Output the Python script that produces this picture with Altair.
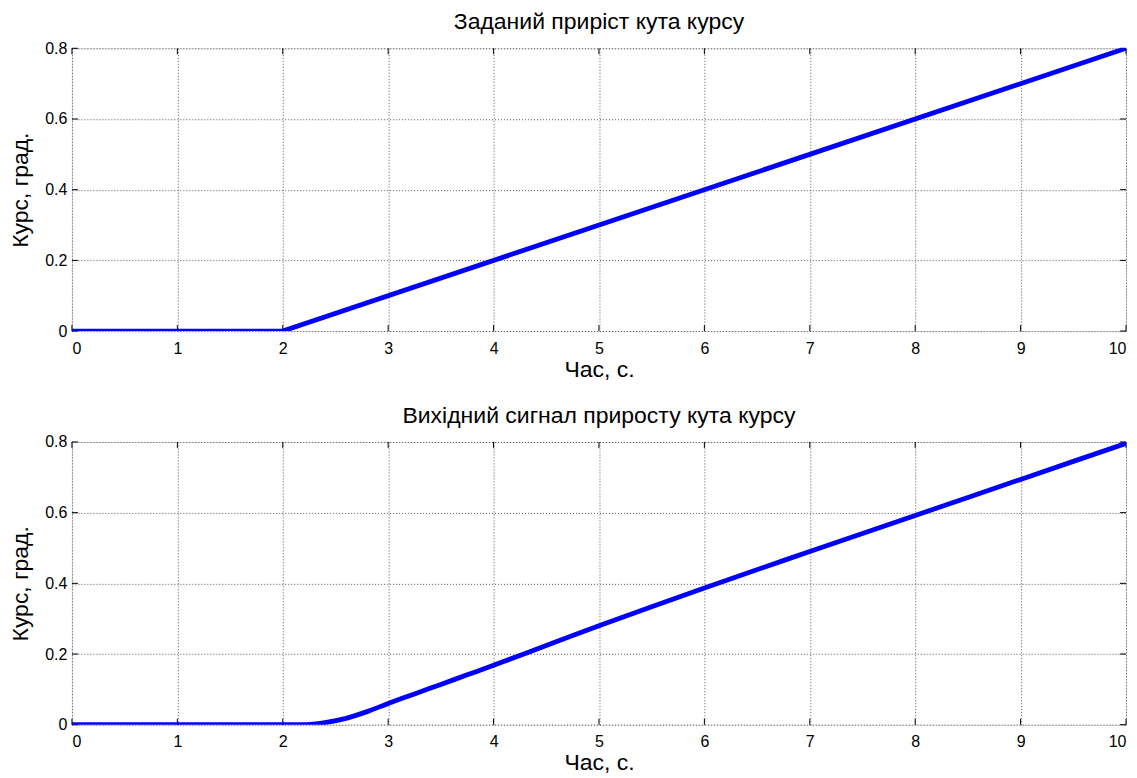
import altair as alt
import pandas as pd

# Top panel: commanded heading increment
t_top = [0, 2, 10]
y_top = [0, 0, 0.8]

# Bottom panel: output signal of heading increment
t_bot = [0, 1, 2.0, 2.2, 2.4, 2.6, 2.8, 3.0, 3.25, 3.5, 3.75, 4.0, 4.5, 5, 5.5, 6, 7, 8, 9, 10]
y_bot = [0, 0, 0, 0, 0.006, 0.018, 0.037, 0.060, 0.087, 0.114, 0.141, 0.168, 0.224, 0.280, 0.334, 0.387, 0.490, 0.592, 0.694, 0.796]

x_ticks = [0, 1, 2, 3, 4, 5, 6, 7, 8, 9, 10]
y_ticks = [0, 0.2, 0.4, 0.6, 0.8]

titles = ["Заданий приріст кута курсу", "Вихідний сигнал приросту кута курсу"]
x_title = "Час, с."
y_title = "Курс, град."

W, H = 1055, 283
FONT = "Liberation Sans"
TICK = 6
LABEL_FS = 16
TITLE_FS = 23


def panel(ts, ys, title, interp):
    df = pd.DataFrame({"t": ts, "v": ys})
    xs = alt.Scale(domain=[0, 10], nice=False, zero=False)
    ysc = alt.Scale(domain=[0, 0.8], nice=False, zero=False)
    common = dict(
        grid=True, ticks=False, domain=False,
        labelFontSize=LABEL_FS, titleFontSize=TITLE_FS,
        titleFontWeight="normal", labelFont=FONT, titleFont=FONT,
        gridDash=[1, 2], gridColor="#555555", gridWidth=1,
        labelColor="black", titleColor="black",
    )
    line = alt.Chart(df).mark_line(color="#0000FF", strokeWidth=4.8, clip=True,
                                   interpolate=interp).encode(
        x=alt.X("t:Q", scale=xs, axis=alt.Axis(
            values=x_ticks, format="~g", title=x_title,
            labelPadding=9, titlePadding=2, **common)),
        y=alt.Y("v:Q", scale=ysc, axis=alt.Axis(
            values=y_ticks, format="~g", title=y_title,
            labelPadding=5, titlePadding=12, **common)),
    )
    xt = pd.DataFrame({"xt": x_ticks})
    yt = pd.DataFrame({"yt": y_ticks})
    xb = alt.Chart(xt).mark_rule(color="black", strokeWidth=1).encode(
        x=alt.X("xt:Q", scale=xs), y=alt.value(H), y2=alt.value(H - TICK))
    xtop = alt.Chart(xt).mark_rule(color="black", strokeWidth=1).encode(
        x=alt.X("xt:Q", scale=xs), y=alt.value(0), y2=alt.value(TICK))
    yl = alt.Chart(yt).mark_rule(color="black", strokeWidth=1).encode(
        y=alt.Y("yt:Q", scale=ysc), x=alt.value(0), x2=alt.value(TICK))
    yr = alt.Chart(yt).mark_rule(color="black", strokeWidth=1).encode(
        y=alt.Y("yt:Q", scale=ysc), x=alt.value(W), x2=alt.value(W - TICK))
    return alt.layer(xb, xtop, yl, yr, line).properties(
        width=W, height=H,
        title=alt.TitleParams(title, fontSize=TITLE_FS, font=FONT, fontWeight="normal",
                              color="black", offset=6, anchor="middle"),
    )


chart = alt.vconcat(
    panel(t_top, y_top, titles[0], "linear"),
    panel(t_bot, y_bot, titles[1], "monotone"),
    spacing=22,
).properties(
    padding={"left": 1, "top": 2, "right": 2, "bottom": 0},
).configure_view(
    stroke="black", strokeWidth=1
).configure(background="white")

chart.save("out.html", embed_options={"renderer": "svg", "actions": False})
